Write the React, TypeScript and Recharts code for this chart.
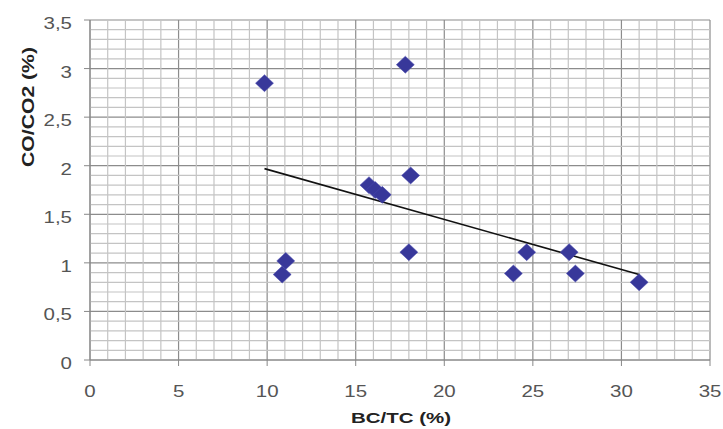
import React from "react";
import {
  ScatterChart,
  Scatter,
  XAxis,
  YAxis,
  CartesianGrid,
  ReferenceLine,
} from "recharts";

// ticks
const xTicks = [0, 5, 10, 15, 20, 25, 30, 35];
const yTicks = [0, 0.5, 1, 1.5, 2, 2.5, 3, 3.5];

// minor grid (every 1 on x, every 0.1 on y)
const xMinor = Array.from({ length: 35 }, (_, i) => i).filter((v) => v % 5 !== 0);
const yMinor = Array.from({ length: 35 }, (_, i) => i / 10).filter(
  (v) => Math.round(v * 10) % 5 !== 0
);

// BC/TC (%) vs CO/CO2 (%)
const bcTc = [9.85, 17.8, 15.75, 16.1, 16.5, 18.1, 18.0, 11.05, 10.85, 24.65, 23.9, 27.05, 27.4, 31.0];
const coCo2 = [2.85, 3.04, 1.8, 1.75, 1.7, 1.9, 1.11, 1.02, 0.88, 1.11, 0.89, 1.11, 0.89, 0.8];
const points = bcTc.map((x, i) => ({ x, y: coCo2[i] }));

// trend line ends
const trendX = [9.85, 31];
const trendY = [1.97, 0.88];
const trend = trendX.map((x, i) => ({ x, y: trendY[i] }));

const font = "'Liberation Sans', Arial, sans-serif";

const Diamond = (props: any) => {
  const { cx, cy } = props;
  if (cx == null || cy == null) return <g />;
  const w = 9;
  const h = 8.5;
  return (
    <polygon
      points={`${cx},${cy - h} ${cx + w},${cy} ${cx},${cy + h} ${cx - w},${cy}`}
      fill="#38389a"
      stroke="#4a4ab0"
      strokeWidth={0.5}
    />
  );
};

const XTick = (props: any) => {
  const { x, y, payload } = props;
  return (
    <g transform={`translate(${x},${y})`}>
      <text
        transform="scale(1.28,1)"
        textAnchor="middle"
        y={29}
        fill="#555"
        fontSize={16}
        fontFamily={font}
      >
        {payload.value}
      </text>
    </g>
  );
};

const YTick = (props: any) => {
  const { x, y, payload } = props;
  return (
    <g transform={`translate(${x - 10},${y})`}>
      <text
        transform="scale(1.28,1)"
        textAnchor="end"
        y={9}
        fill="#555"
        fontSize={16}
        fontFamily={font}
      >
        {String(payload.value).replace(".", ",")}
      </text>
    </g>
  );
};

const XLabel = (props: any) => {
  const vb = props.viewBox || { x: 90, y: 360, width: 620 };
  return (
    <text
      x={vb.x + vb.width / 2 + 1}
      y={vb.y + 63}
      textAnchor="middle"
      fontSize={15}
      fontWeight="bold"
      fill="#222"
      fontFamily={font}
      textLength={100}
      lengthAdjust="spacingAndGlyphs"
    >
      BC/TC (%)
    </text>
  );
};

const YLabel = (props: any) => {
  const vb = props.viewBox || { x: 0, y: 20 };
  const cx = 28;
  const cy = vb.y + 87;
  return (
    <text
      x={cx}
      y={cy}
      transform={`rotate(-90, ${cx}, ${cy})`}
      textAnchor="middle"
      dominantBaseline="central"
      fontSize={16}
      fontWeight="bold"
      fill="#222"
      fontFamily={font}
      textLength={120}
      lengthAdjust="spacingAndGlyphs"
    >
      CO/CO2 (%)
    </text>
  );
};

export default function App() {
  return (
    <div style={{ width: 723, height: 429, background: "#fff" }}>
      <style>{"body{margin:0;background:#fff}"}</style>
      <ScatterChart
        width={723}
        height={429}
        margin={{ top: 20, right: 13, bottom: 0, left: 0 }}
      >
        <CartesianGrid stroke="#8c8c8c" strokeWidth={1.2} />
        {xMinor.map((v) => (
          <ReferenceLine key={"x" + v} x={v} stroke="#c4c4c4" strokeWidth={1.2} />
        ))}
        {yMinor.map((v) => (
          <ReferenceLine key={"y" + v} y={v} stroke="#c4c4c4" strokeWidth={1.2} />
        ))}
        <XAxis
          type="number"
          dataKey="x"
          domain={[0, 35]}
          ticks={xTicks}
          height={69}
          stroke="#888"
          tick={<XTick />}
          label={<XLabel />}
        />
        <YAxis
          type="number"
          dataKey="y"
          domain={[0, 3.5]}
          ticks={yTicks}
          width={90}
          stroke="#888"
          tick={<YTick />}
          label={<YLabel />}
        />
        <Scatter
          data={trend}
          line={{ stroke: "#111", strokeWidth: 1.6 }}
          shape={() => <g />}
          isAnimationActive={false}
        />
        <Scatter data={points} shape={<Diamond />} isAnimationActive={false} />
      </ScatterChart>
    </div>
  );
}
